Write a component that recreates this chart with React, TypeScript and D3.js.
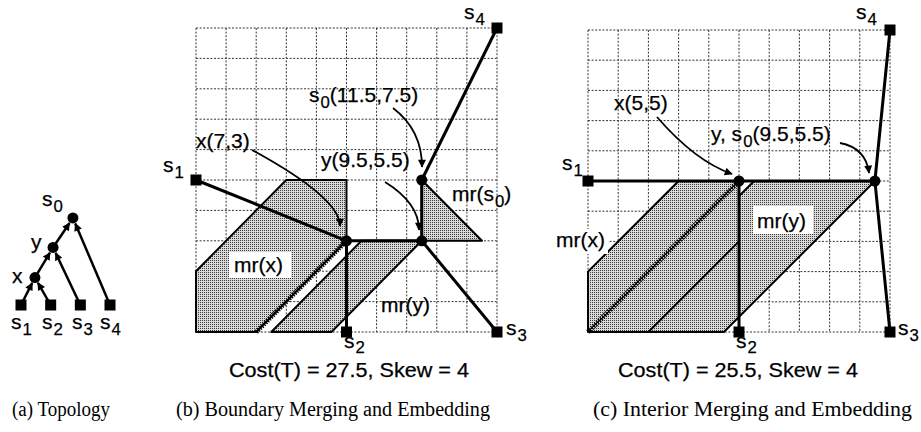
import React from "react";
import * as d3 from "d3";

type P = [number, number];

// ---------- data (grid units) ----------
const sinkNames = ["s1", "s2", "s3", "s4"];
const sinkPos: P[] = [[0, 5], [5, 0], [10, 0], [10, 10]];

// Panel (b) boundary merging
const bNodeNames = ["x", "y", "s0"];
const bNodePos: P[] = [[5, 3], [7.5, 3], [7.5, 5]];
const bEdges: [string, string][] = [["s1", "x"], ["x", "s2"], ["x", "y"], ["y", "s3"], ["y", "s0"], ["s0", "s4"]];
const bRegions: P[][] = [
  [[0, 0], [2, 0], [5, 3], [5, 5], [3, 5], [0, 2]],
  [[2.5, 0], [4.5, 0], [7.5, 3], [5.5, 3]],
  [[7.5, 5], [7.5, 3], [9.5, 3]],
];
const bMs: P[] = [[2, 0], [5, 3]];

// Panel (c) interior merging
const cNodeNames = ["x", "y"];
const cNodePos: P[] = [[5, 5], [9.5, 5]];
const cEdges: [string, string][] = [["s1", "x"], ["x", "s2"], ["x", "y"], ["y", "s3"], ["y", "s4"]];
const cRegions: P[][] = [
  [[0.5, 0], [4.5, 0], [9.5, 5], [5.5, 5]],
  [[0, 0], [2, 0], [5, 3], [5, 5], [3, 5], [0, 2]],
];
const cMs: P[] = [[0, 0], [5, 5]];

// Topology (a)
const topoNames = ["s1", "s2", "s3", "s4", "x", "y", "s0"];
const topoPos: P[] = [[0, 0], [1, 0], [2, 0], [3, 0], [0.47, 0.93], [1.08, 1.95], [1.75, 2.95]];
const topoEdges: [string, string][] = [["s1", "x"], ["s2", "x"], ["x", "y"], ["s3", "y"], ["y", "s0"], ["s4", "s0"]];

const gridTicks = d3.range(0, 11);

// annotation arrows (pixel layout): start, control, end
const bArrows: P[][] = [
  [[252, 150], [340, 198], [340, 226]],
  [[385, 182], [419, 203], [419, 230]],
  [[393, 108], [422, 130], [422, 167]],
];
const cArrows: P[][] = [
  [[657, 117], [695, 161], [732, 174]],
  [[840, 143], [866, 148], [869, 173]],
];

// ---------- layout ----------
const bx = d3.scaleLinear().domain([0, 10]).range([196, 497]);
const by = d3.scaleLinear().domain([0, 10]).range([332, 28]);
const cx = d3.scaleLinear().domain([0, 10]).range([588, 890]);
const cy = d3.scaleLinear().domain([0, 10]).range([332, 30]);
const tx = d3.scaleLinear().domain([0, 3]).range([21, 110]);
const ty = d3.scaleLinear().domain([0, 3]).range([305, 216.5]);

const FONT = "'Liberation Sans', Arial, Helvetica, sans-serif";
const SERIF = "'Liberation Serif', 'Times New Roman', serif";

function Label({ x, y, main, sub, rest, fs = 21, sd = 6 }: { x: number; y: number; main: string; sub?: string; rest?: string; fs?: number; sd?: number }) {
  return (
    <text x={x} y={y} fontFamily={FONT} fontSize={fs} fill="#000" stroke="#000" strokeWidth={0.25}>
      {main}
      {sub !== undefined && (
        <tspan fontSize={fs * 0.8} dy={sd} dx={1}>
          {sub}
        </tspan>
      )}
      {rest !== undefined && <tspan dy={sub !== undefined ? -sd : 0}>{rest}</tspan>}
    </text>
  );
}

function Panel({
  sx, sy, nodeNames, nodePos, edges, regions, ms, arrows,
}: {
  sx: d3.ScaleLinear<number, number>; sy: d3.ScaleLinear<number, number>;
  nodeNames: string[]; nodePos: P[]; edges: [string, string][]; regions: P[][]; ms: P[]; arrows: P[][];
}) {
  const pos: Record<string, P> = {};
  sinkNames.forEach((n, i) => (pos[n] = sinkPos[i]));
  nodeNames.forEach((n, i) => (pos[n] = nodePos[i]));
  const line = d3.line<P>().x((d) => sx(d[0])).y((d) => sy(d[1]));
  const x0 = sx(0), x1 = sx(10), y0 = sy(0), y1 = sy(10);
  return (
    <g>
      <g stroke="#333" strokeWidth={1} strokeDasharray="2 1.6">
        {gridTicks.map((t) => (
          <line key={"v" + t} x1={sx(t)} x2={sx(t)} y1={y1} y2={y0} />
        ))}
        {gridTicks.map((t) => (
          <line key={"h" + t} x1={x0} x2={x1} y1={sy(t)} y2={sy(t)} />
        ))}
      </g>
      {regions.map((r, i) => (
        <path key={i} d={line(r)! + "Z"} fill="url(#stip)" stroke="#000" strokeWidth={2} strokeLinejoin="round" />
      ))}
      <path d={line(ms)!} stroke="#000" strokeWidth={5} strokeDasharray="1.3 1.3" fill="none" />
      <path d={line(ms)!} stroke="#000" strokeWidth={1} fill="none" />
      {edges.map(([a, b], i) => (
        <path key={i} d={line([pos[a], pos[b]])!} stroke="#000" strokeWidth={3} fill="none" />
      ))}
      {sinkPos.map((p, i) => (
        <rect key={i} x={sx(p[0]) - 5.5} y={sy(p[1]) - 5.5} width={11} height={11} fill="#000" />
      ))}
      {nodePos.map((p, i) => (
        <circle key={i} cx={sx(p[0])} cy={sy(p[1])} r={5.5} fill="#000" />
      ))}
      {arrows.map((a, i) => (
        <path
          key={i}
          d={`M${a[0][0]},${a[0][1]} Q${a[1][0]},${a[1][1]} ${a[2][0]},${a[2][1]}`}
          stroke="#000"
          strokeWidth={1.8}
          fill="none"
          markerEnd="url(#ah)"
        />
      ))}
    </g>
  );
}

function Topology() {
  const pos: Record<string, P> = {};
  topoNames.forEach((n, i) => (pos[n] = topoPos[i]));
  const r = 5.5;
  return (
    <g>
      {topoEdges.map(([a, b], i) => {
        const ax = tx(pos[a][0]), ay = ty(pos[a][1]);
        const bx2 = tx(pos[b][0]), by2 = ty(pos[b][1]);
        const dx = bx2 - ax, dy = by2 - ay;
        const L = Math.hypot(dx, dy);
        const ex = bx2 - (dx / L) * (r + 0.5), ey = by2 - (dy / L) * (r + 0.5);
        return <line key={i} x1={ax} y1={ay} x2={ex} y2={ey} stroke="#000" strokeWidth={2.5} markerEnd="url(#ah2)" />;
      })}
      {topoNames.slice(0, 4).map((n, i) => (
        <rect key={n} x={tx(topoPos[i][0]) - 5.5} y={ty(topoPos[i][1]) - 5.5} width={11} height={11} fill="#000" />
      ))}
      {topoNames.slice(4).map((n, i) => (
        <circle key={n} cx={tx(topoPos[i + 4][0])} cy={ty(topoPos[i + 4][1])} r={r} fill="#000" />
      ))}
    </g>
  );
}

export default function App() {
  return (
    <svg width={921} height={432} style={{ position: "absolute", left: 0, top: 0, background: "#fff" }}>
      <defs>
        <pattern id="stip" width={2} height={2} patternUnits="userSpaceOnUse">
          <rect width={2} height={2} fill="#dadada" />
          <rect width={1} height={1} fill="#3a3a3a" />
        </pattern>
        <marker id="ah" viewBox="0 0 10 10" refX={9} refY={5} markerWidth={9} markerHeight={8} markerUnits="userSpaceOnUse" orient="auto">
          <path d="M0,0 L10,5 L0,10 z" fill="#000" />
        </marker>
        <marker id="ah2" viewBox="0 0 10 10" refX={9} refY={5} markerWidth={9} markerHeight={8} markerUnits="userSpaceOnUse" orient="auto">
          <path d="M0,0 L10,5 L0,10 z" fill="#000" />
        </marker>
      </defs>
      <rect width={921} height={432} fill="#fff" />

      {/* (a) */}
      <Topology />
      <Label x={42} y={206} main="s" sub="0" />
      <Label x={31} y={249} main="y" />
      <Label x={12} y={283} main="x" />
      <Label x={11} y={329} main="s" sub="1" />
      <Label x={42} y={329} main="s" sub="2" />
      <Label x={72} y={329} main="s" sub="3" />
      <Label x={100} y={329} main="s" sub="4" />

      {/* (b) */}
      <Panel sx={bx} sy={by} nodeNames={bNodeNames} nodePos={bNodePos} edges={bEdges} regions={bRegions} ms={bMs} arrows={bArrows} />
      <rect x={229} y={252} width={62} height={26} fill="#fff" />
      <Label x={234} y={272} main="mr(x)" />
      <Label x={381} y={312} main="mr(y)" />
      <Label x={452} y={201} main="mr(s" sub="0" rest=")" />
      <Label x={464} y={19} main="s" sub="4" />
      <Label x={163} y={172} main="s" sub="1" />
      <Label x={196} y={148} main="x(7,3)" />
      <Label x={321} y={167} main="y(9.5,5.5)" />
      <Label x={309} y={102} main="s" sub="0" rest="(11.5,7.5)" />
      <Label x={344} y={348} main="s" sub="2" sd={5} />
      <Label x={506} y={335} main="s" sub="3" />

      {/* (c) */}
      <Panel sx={cx} sy={cy} nodeNames={cNodeNames} nodePos={cNodePos} edges={cEdges} regions={cRegions} ms={cMs} arrows={cArrows} />
      <rect x={554} y={229} width={54} height={25} fill="#fff" />
      <Label x={556} y={247} main="mr(x)" />
      <rect x={753} y={206} width={60} height={28} fill="#fff" />
      <Label x={757} y={228} main="mr(y)" />
      <Label x={856} y={19} main="s" sub="4" />
      <Label x={562} y={170} main="s" sub="1" />
      <Label x={614} y={110} main="x(5,5)" />
      <Label x={711} y={141} main="y, s" sub="0" rest="(9.5,5.5)" />
      <Label x={736} y={348} main="s" sub="2" sd={5} />
      <Label x={898} y={335} main="s" sub="3" />

      {/* cost lines */}
      <text x={229} y={377} fontFamily={FONT} fontSize={20} stroke="#000" strokeWidth={0.25} textLength={240} lengthAdjust="spacingAndGlyphs">
        Cost(T) = 27.5, Skew = 4
      </text>
      <text x={618} y={377} fontFamily={FONT} fontSize={20} stroke="#000" strokeWidth={0.25} textLength={240} lengthAdjust="spacingAndGlyphs">
        Cost(T) = 25.5, Skew = 4
      </text>

      {/* captions */}
      <text x={12} y={416} fontFamily={SERIF} fontSize={20} textLength={98} lengthAdjust="spacingAndGlyphs">
        (a) Topology
      </text>
      <text x={176} y={416} fontFamily={SERIF} fontSize={20} textLength={314} lengthAdjust="spacingAndGlyphs">
        (b) Boundary Merging and Embedding
      </text>
      <text x={593} y={416} fontFamily={SERIF} fontSize={20} textLength={319} lengthAdjust="spacingAndGlyphs">
        (c) Interior Merging and Embedding
      </text>
    </svg>
  );
}
